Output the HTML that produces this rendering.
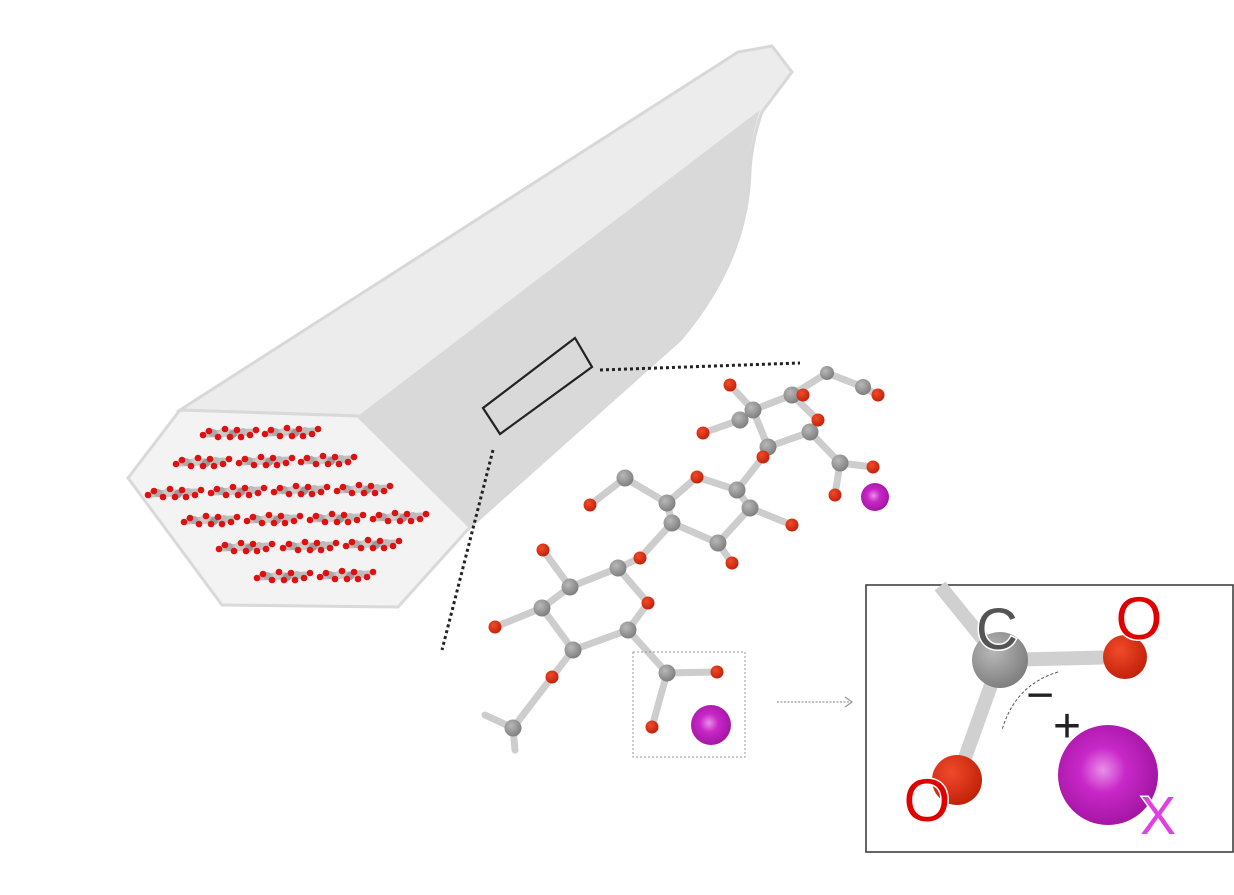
<!DOCTYPE html>
<html><head><meta charset="utf-8"><style>html,body{margin:0;padding:0;background:#fff}svg{display:block}</style></head><body>
<svg width="1234" height="895" viewBox="0 0 1234 895" xmlns="http://www.w3.org/2000/svg">
<defs>
<radialGradient id="gg" cx="0.38" cy="0.35" r="0.7"><stop offset="0" stop-color="#b8b8b8"/><stop offset="1" stop-color="#7c7c7c"/></radialGradient>
<radialGradient id="rg" cx="0.38" cy="0.35" r="0.7"><stop offset="0" stop-color="#f04a2a"/><stop offset="1" stop-color="#c02008"/></radialGradient>
<radialGradient id="pg" cx="0.45" cy="0.45" r="0.65"><stop offset="0" stop-color="#e890e8"/><stop offset="0.35" stop-color="#c828c8"/><stop offset="1" stop-color="#9a109a"/></radialGradient>
<g id="mc">
<line x1="2" y1="0" x2="50" y2="-2" stroke="#c0c0c0" stroke-width="7"/>
<circle cx="10" cy="-1" r="4" fill="#aaa"/><circle cx="20" cy="-2" r="4" fill="#ccc"/><circle cx="30" cy="0" r="4" fill="#999"/><circle cx="40" cy="-2" r="4" fill="#bbb"/>
<circle cx="0" cy="1" r="3.3" fill="#e01010"/><circle cx="6" cy="-3" r="3.3" fill="#e01010"/><circle cx="15" cy="3" r="3.3" fill="#e01010"/><circle cx="22" cy="-5" r="3.3" fill="#e01010"/><circle cx="27" cy="3" r="3.3" fill="#e01010"/><circle cx="34" cy="-4" r="3.3" fill="#e01010"/><circle cx="38" cy="3" r="3.3" fill="#e01010"/><circle cx="47" cy="1" r="3.3" fill="#e01010"/><circle cx="53" cy="-4" r="3.3" fill="#e01010"/>
</g>
</defs>
<!-- fiber -->
<path d="M180,410 L738,52 L772,46 L792,72 L762,112 Q752,140 750,170 Q748,260 680,340 L470,527 L358,416 Z" fill="#ececec" stroke="#d8d8d8" stroke-width="3"/>
<path d="M358,416 L760,110 Q750,140 749,170 Q747,262 680,340 L470,527 Z" fill="#d9d9d9"/>
<path d="M180,410 L358,416 L470,527 L398,607 L222,605 L128,478 Z" fill="#f3f3f3" stroke="#d9d9d9" stroke-width="3"/>
<g>
<use href="#mc" x="203" y="434"/><use href="#mc" x="265" y="433"/>
<use href="#mc" x="176" y="463"/><use href="#mc" x="239" y="462"/><use href="#mc" x="301" y="461"/>
<use href="#mc" x="148" y="494"/><use href="#mc" x="211" y="492"/><use href="#mc" x="274" y="491"/><use href="#mc" x="337" y="490"/>
<use href="#mc" x="184" y="521"/><use href="#mc" x="247" y="520"/><use href="#mc" x="310" y="519"/><use href="#mc" x="373" y="518"/>
<use href="#mc" x="219" y="548"/><use href="#mc" x="283" y="547"/><use href="#mc" x="346" y="545"/>
<use href="#mc" x="257" y="577"/><use href="#mc" x="320" y="576"/>
</g>
<polygon points="483,408 575,338 592,367 500,434" fill="none" stroke="#222" stroke-width="2.2"/>
<line x1="600" y1="370" x2="800" y2="363" stroke="#222" stroke-width="3" stroke-dasharray="3,3"/>
<line x1="493" y1="450" x2="442" y2="650" stroke="#222" stroke-width="3" stroke-dasharray="3,3"/>
<!-- bonds -->
<g stroke="#cdcdcd" stroke-width="7" stroke-linecap="round" fill="none">
<path d="M730,385 L753,410 L792,395 L818,420 L810,432 L768,447 L753,410 M740,420 L703,433 M792,395 L827,373 L863,387 L878,395 M810,432 L840,463 L873,467 M840,463 L835,495 M768,447 L763,457 L737,490 L697,477 L667,503 L672,523 L718,543 L750,508 L737,490 M750,508 L792,525 M718,543 L732,563 M667,503 L625,478 L590,505 M672,523 L640,558 L618,568 L570,587 L542,608 L573,650 L628,630 L648,603 L618,568 M570,587 L543,550 M542,608 L495,627 M573,650 L552,677 L513,728 L485,715 M513,728 L515,750 M628,630 L667,673 L717,672 M667,673 L652,727"/>
</g>
<g fill="url(#gg)">
<circle cx="753" cy="410" r="8.5"/><circle cx="740" cy="420" r="8.5"/><circle cx="792" cy="395" r="8.5"/><circle cx="810" cy="432" r="8.5"/><circle cx="768" cy="447" r="8.5"/><circle cx="840" cy="463" r="8.5"/><circle cx="863" cy="387" r="8"/><circle cx="827" cy="373" r="7"/>
<circle cx="625" cy="478" r="8.5"/><circle cx="667" cy="503" r="8.5"/><circle cx="672" cy="523" r="8.5"/><circle cx="737" cy="490" r="8.5"/><circle cx="750" cy="508" r="8.5"/><circle cx="718" cy="543" r="8.5"/>
<circle cx="618" cy="568" r="8.5"/><circle cx="570" cy="587" r="8.5"/><circle cx="542" cy="608" r="8.5"/><circle cx="573" cy="650" r="8.5"/><circle cx="628" cy="630" r="8.5"/><circle cx="667" cy="673" r="8.5"/><circle cx="513" cy="728" r="8.5"/>
</g>
<g fill="url(#rg)">
<circle cx="730" cy="385" r="6.5"/><circle cx="703" cy="433" r="6.5"/><circle cx="803" cy="395" r="6.5"/><circle cx="818" cy="420" r="6.5"/><circle cx="763" cy="457" r="6.5"/><circle cx="873" cy="467" r="6.5"/><circle cx="835" cy="495" r="6.5"/><circle cx="878" cy="395" r="6.5"/>
<circle cx="697" cy="477" r="6.5"/><circle cx="590" cy="505" r="6.5"/><circle cx="792" cy="525" r="6.5"/><circle cx="732" cy="563" r="6.5"/><circle cx="640" cy="558" r="6.5"/><circle cx="543" cy="550" r="6.5"/><circle cx="648" cy="603" r="6.5"/><circle cx="495" cy="627" r="6.5"/><circle cx="552" cy="677" r="6.5"/><circle cx="717" cy="672" r="6.5"/><circle cx="652" cy="727" r="6.5"/>
</g>
<circle cx="875" cy="497" r="14" fill="url(#pg)"/>
<circle cx="711" cy="725" r="20" fill="url(#pg)"/>
<rect x="633" y="652" width="112" height="105" fill="none" stroke="#999" stroke-width="1" stroke-dasharray="2,2"/>
<line x1="777" y1="702" x2="851" y2="702" stroke="#aaa" stroke-width="1.5" stroke-dasharray="2,1.5"/>
<polyline points="845,697 852,702 845,707" fill="none" stroke="#999" stroke-width="1.3"/>
<!-- inset -->
<rect x="866" y="585" width="367" height="267" fill="#fff" stroke="#333" stroke-width="1.5"/>
<g stroke-linecap="butt">
<line x1="940" y1="586" x2="1000" y2="660" stroke="#d0d0d0" stroke-width="14"/>
<line x1="1000" y1="660" x2="1125" y2="657" stroke="#d0d0d0" stroke-width="14"/>
<line x1="1000" y1="660" x2="957" y2="780" stroke="#d0d0d0" stroke-width="14"/>
</g>
<circle cx="1000" cy="660" r="28" fill="url(#gg)"/>
<circle cx="1125" cy="657" r="22" fill="url(#rg)"/>
<circle cx="957" cy="780" r="25" fill="url(#rg)"/>
<circle cx="1108" cy="775" r="50" fill="url(#pg)"/>
<path d="M1058,672 Q1015,685 1002,730" fill="none" stroke="#555" stroke-width="1" stroke-dasharray="3,2"/>
<g font-family="Liberation Sans, DejaVu Sans, sans-serif" text-anchor="middle" paint-order="stroke" stroke="#fff" stroke-width="3">
<text x="997" y="649" font-size="58" fill="#555">C</text>
<text x="1139" y="639" font-size="60" fill="#e00000">O</text>
<text x="927" y="821" font-size="60" fill="#e00000">O</text>
<text x="1158" y="834" font-size="54" fill="#e040e0">X</text>
<text x="1040" y="711" font-size="48" fill="#222" stroke="none">−</text>
<text x="1067" y="742" font-size="48" fill="#222" stroke="none">+</text>
</g>
</svg>
</body></html>
